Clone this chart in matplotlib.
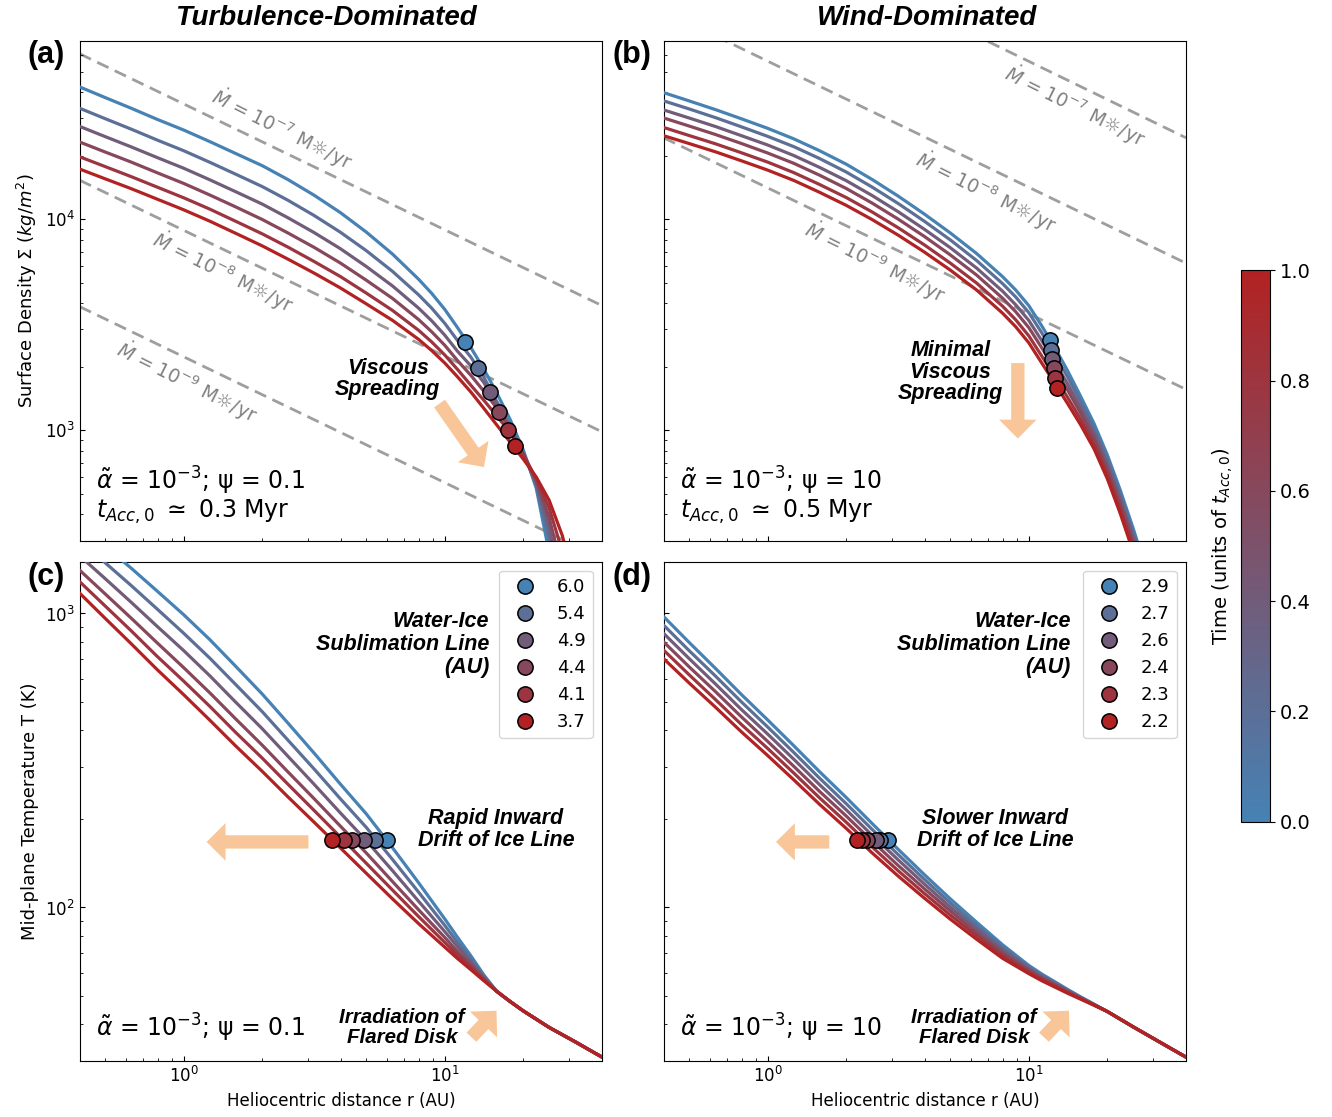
import numpy as np
import matplotlib
matplotlib.use("Agg")
import matplotlib as mpl
import matplotlib.pyplot as plt
from matplotlib.colors import LinearSegmentedColormap
from matplotlib.lines import Line2D

# ---- data ---------------------------------------------------------------
times = [0.0, 0.2, 0.4, 0.6, 0.8, 1.0]          # units of t_Acc,0

# radial grids (AU)
r_sig = [0.4, 0.5, 0.63, 0.79, 1.0, 1.26, 1.58, 2.0, 2.51, 3.16, 3.98, 5.01, 6.31,
         7.94, 8.91, 10, 11.2, 12.6, 14.1, 15.8, 17.8, 20, 22.4, 25.1, 28.2, 31.6]
r_tmp = [0.4, 0.5, 0.63, 0.79, 1.0, 1.26, 1.58, 2.0, 2.51, 3.16, 3.98, 5.01, 6.31,
         7.94, 10, 11.2, 12.6, 14.1, 15.8, 17.8, 20, 25.1, 31.6, 40]

# log10 surface density (kg/m^2), one row per time
logsig_turb = [
    [4.626, 4.576, 4.525, 4.473, 4.422, 4.367, 4.311, 4.253, 4.187, 4.113, 4.031, 3.938, 3.834,
     3.715, 3.648, 3.572, 3.485, 3.390, 3.290, 3.177, 3.050, 2.905, 2.725, 2.420, 2.000, 1.400],
    [4.525, 4.476, 4.426, 4.375, 4.324, 4.269, 4.213, 4.154, 4.089, 4.017, 3.938, 3.850, 3.752,
     3.641, 3.578, 3.506, 3.424, 3.345, 3.252, 3.137, 3.022, 2.894, 2.739, 2.484, 2.130, 1.620],
    [4.439, 4.391, 4.342, 4.292, 4.241, 4.186, 4.130, 4.071, 4.006, 3.936, 3.860, 3.775, 3.683,
     3.578, 3.518, 3.450, 3.373, 3.304, 3.226, 3.124, 3.009, 2.884, 2.750, 2.539, 2.240, 1.810],
    [4.365, 4.318, 4.270, 4.220, 4.169, 4.114, 4.058, 3.998, 3.934, 3.866, 3.792, 3.710, 3.624,
     3.524, 3.466, 3.402, 3.329, 3.259, 3.185, 3.105, 3.003, 2.886, 2.761, 2.586, 2.335, 1.976],
    [4.295, 4.249, 4.201, 4.152, 4.101, 4.047, 3.990, 3.930, 3.867, 3.799, 3.728, 3.649, 3.567,
     3.473, 3.418, 3.356, 3.287, 3.212, 3.142, 3.068, 2.989, 2.883, 2.770, 2.631, 2.425, 2.131],
    [4.237, 4.191, 4.144, 4.095, 4.044, 3.990, 3.933, 3.873, 3.810, 3.744, 3.674, 3.598, 3.520,
     3.430, 3.377, 3.318, 3.252, 3.180, 3.104, 3.025, 2.943, 2.862, 2.778, 2.668, 2.500, 2.260],
]
logsig_wind = [
    [4.599, 4.560, 4.519, 4.476, 4.430, 4.380, 4.324, 4.260, 4.188, 4.109, 4.024, 3.934, 3.837,
     3.727, 3.664, 3.590, 3.495, 3.390, 3.280, 3.160, 3.030, 2.882, 2.716, 2.535, 2.335, 2.110],
    [4.560, 4.522, 4.481, 4.438, 4.392, 4.343, 4.287, 4.223, 4.152, 4.074, 3.990, 3.901, 3.804,
     3.694, 3.631, 3.557, 3.462, 3.358, 3.251, 3.134, 3.007, 2.861, 2.695, 2.514, 2.314, 2.089],
    [4.517, 4.479, 4.439, 4.396, 4.351, 4.301, 4.245, 4.182, 4.112, 4.035, 3.952, 3.864, 3.768,
     3.658, 3.594, 3.520, 3.425, 3.322, 3.218, 3.106, 2.982, 2.837, 2.672, 2.491, 2.291, 2.066],
    [4.479, 4.441, 4.401, 4.359, 4.313, 4.264, 4.208, 4.145, 4.076, 4.000, 3.918, 3.830, 3.735,
     3.625, 3.561, 3.486, 3.391, 3.290, 3.189, 3.080, 2.959, 2.815, 2.651, 2.470, 2.270, 2.045],
    [4.434, 4.396, 4.357, 4.315, 4.270, 4.220, 4.164, 4.102, 4.034, 3.959, 3.878, 3.791, 3.697,
     3.587, 3.523, 3.447, 3.352, 3.252, 3.154, 3.051, 2.933, 2.790, 2.626, 2.445, 2.245, 2.020],
    [4.395, 4.358, 4.319, 4.277, 4.232, 4.183, 4.127, 4.065, 3.998, 3.924, 3.844, 3.758, 3.664,
     3.554, 3.490, 3.414, 3.319, 3.220, 3.125, 3.025, 2.910, 2.769, 2.605, 2.424, 2.224, 1.999],
]

# log10 mid-plane temperature (K)
logT_turb = [
    [3.299, 3.229, 3.154, 3.077, 2.996, 2.911, 2.821, 2.726, 2.627, 2.525, 2.420, 2.318,
     2.203, 2.084, 1.961, 1.898, 1.835, 1.771, 1.715, 1.680, 1.648, 1.592, 1.543, 1.491],
    [3.246, 3.173, 3.095, 3.016, 2.933, 2.848, 2.759, 2.666, 2.569, 2.471, 2.370, 2.272,
     2.163, 2.052, 1.939, 1.881, 1.824, 1.766, 1.715, 1.680, 1.648, 1.592, 1.543, 1.491],
    [3.196, 3.119, 3.038, 2.957, 2.874, 2.788, 2.699, 2.608, 2.514, 2.419, 2.322, 2.227,
     2.125, 2.021, 1.918, 1.866, 1.814, 1.762, 1.715, 1.680, 1.648, 1.592, 1.543, 1.491],
    [3.147, 3.067, 2.984, 2.901, 2.816, 2.730, 2.642, 2.552, 2.461, 2.370, 2.277, 2.185,
     2.088, 1.992, 1.898, 1.850, 1.804, 1.758, 1.715, 1.680, 1.648, 1.592, 1.543, 1.491],
    [3.108, 3.026, 2.941, 2.855, 2.770, 2.684, 2.596, 2.508, 2.419, 2.330, 2.240, 2.150,
     2.059, 1.969, 1.881, 1.838, 1.796, 1.754, 1.715, 1.680, 1.648, 1.592, 1.543, 1.491],
    [3.069, 2.984, 2.897, 2.810, 2.724, 2.637, 2.550, 2.463, 2.376, 2.290, 2.203, 2.116,
     2.029, 1.945, 1.865, 1.826, 1.788, 1.751, 1.715, 1.680, 1.648, 1.592, 1.543, 1.491],
]
logT_wind = [
    [2.989, 2.902, 2.814, 2.726, 2.638, 2.550, 2.462, 2.374, 2.286, 2.198, 2.112, 2.029,
     1.950, 1.873, 1.803, 1.774, 1.747, 1.721, 1.696, 1.671, 1.646, 1.594, 1.543, 1.491],
    [2.960, 2.874, 2.788, 2.701, 2.614, 2.527, 2.440, 2.353, 2.266, 2.180, 2.096, 2.015,
     1.938, 1.864, 1.797, 1.769, 1.743, 1.718, 1.694, 1.670, 1.646, 1.594, 1.543, 1.491],
    [2.932, 2.847, 2.761, 2.675, 2.590, 2.504, 2.418, 2.332, 2.246, 2.162, 2.080, 2.001,
     1.927, 1.855, 1.792, 1.765, 1.740, 1.716, 1.693, 1.669, 1.646, 1.594, 1.543, 1.491],
    [2.903, 2.819, 2.735, 2.650, 2.565, 2.480, 2.395, 2.311, 2.226, 2.143, 2.064, 1.988,
     1.915, 1.845, 1.786, 1.760, 1.736, 1.713, 1.691, 1.669, 1.646, 1.594, 1.543, 1.491],
    [2.875, 2.792, 2.708, 2.624, 2.541, 2.457, 2.373, 2.290, 2.206, 2.125, 2.048, 1.974,
     1.904, 1.836, 1.781, 1.756, 1.733, 1.711, 1.690, 1.668, 1.646, 1.594, 1.543, 1.491],
    [2.846, 2.764, 2.682, 2.599, 2.517, 2.434, 2.351, 2.269, 2.186, 2.107, 2.032, 1.960,
     1.892, 1.827, 1.775, 1.751, 1.729, 1.708, 1.688, 1.667, 1.646, 1.594, 1.543, 1.491],
]

# circles on the surface density curves
rc_turb = [11.98, 13.40, 14.86, 16.18, 17.46, 18.62]
sigc_turb = [2618, 1959, 1517, 1222, 1000, 841]
rc_wind = [12.02, 12.19, 12.30, 12.45, 12.59, 12.79]
sigc_wind = [2685, 2410, 2163, 1959, 1758, 1578]

# water-ice line (AU) at T = 170 K
T_ice = 170
ice_turb = [6.0, 5.4, 4.9, 4.4, 4.1, 3.7]
ice_wind = [2.9, 2.7, 2.6, 2.4, 2.3, 2.2]

# constant accretion-rate lines: log10 Sigma at r = 0.4 and 40 AU
mdot_r = [0.4, 40]
mdot_exp = ["-7", "-8", "-9"]
logmdot_turb = [[4.783, 3.590], [4.184, 2.992], [3.585, 2.392]]
logmdot_wind = [[5.589, 4.385], [4.986, 3.791], [4.385, 3.193]]

# ---- styling ---------------------------------------------------------------
cmap = LinearSegmentedColormap.from_list("time", ["steelblue", "firebrick"])
ARROW = "#F9C699"
BI = dict(family="Liberation Sans", weight="bold", style="italic")

W, H = 1332, 1117
fig = plt.figure(figsize=(W / 100, H / 100), dpi=100)


def px_axes(x0, y0, x1, y1):
    return fig.add_axes([x0 / W, 1 - y1 / H, (x1 - x0) / W, (y1 - y0) / H])


ax_a = px_axes(79.7, 40.7, 602, 540.5)
ax_b = px_axes(663.7, 40.7, 1186, 540.5)
ax_c = px_axes(79.7, 561.7, 602, 1061.2)
ax_d = px_axes(663.7, 561.7, 1186, 1061.2)
cax = px_axes(1240.5, 270.4, 1270, 821.5)

for ax in (ax_a, ax_b, ax_c, ax_d):
    ax.set_xscale("log")
    ax.set_yscale("log")
    ax.set_xlim(0.4, 40)
    ax.tick_params(which="both", direction="in", top=False, right=False, labelsize=12)

for ax in (ax_a, ax_b):
    ax.set_ylim(300, 7e4)
    ax.tick_params(labelbottom=False)
for ax in (ax_c, ax_d):
    ax.set_ylim(30, 1500)
    ax.set_xlabel("Heliocentric distance r (AU)", fontsize=12)
for ax in (ax_b, ax_d):
    ax.tick_params(which="both", labelleft=False)

ax_a.set_ylabel(r"Surface Density $\Sigma$ ($kg/m^2$)", fontsize=13)
ax_c.set_ylabel("Mid-plane Temperature T (K)", fontsize=13)


def arrow(ax, tail, tip):
    ax.annotate("", xy=tip, xytext=tail, xycoords="axes fraction", textcoords="axes fraction",
                arrowprops=dict(arrowstyle="simple,head_length=0.68,head_width=1.35,tail_width=0.48",
                                color=ARROW, lw=0, shrinkA=0, shrinkB=0, mutation_scale=20),
                zorder=2)


# ---- surface density panels -----------------------------------------------
for ax, logsig, logmd, rc, sc, label_pos in (
        (ax_a, logsig_turb, logmdot_turb, rc_turb, sigc_turb,
         [(0.387, 0.825), (0.274, 0.539), (0.205, 0.318)]),
        (ax_b, logsig_wind, logmdot_wind, rc_wind, sigc_wind,
         [(0.788, 0.871), (0.618, 0.698), (0.404, 0.558)])):
    for k in range(3):
        ax.plot(mdot_r, 10 ** np.array(logmd[k]), color="0.62", lw=2, dashes=(4.5, 2.5), zorder=1)
        ax.text(label_pos[k][0], label_pos[k][1],
                r"$\dot{M}$ = 10$^{%s}$ M☼/yr" % mdot_exp[k],
                transform=ax.transAxes, color="0.5", fontsize=13.5, rotation=-26.5,
                rotation_mode="anchor", ha="center", va="center", zorder=1)
    for i, t in enumerate(times):
        ax.plot(r_sig, 10 ** np.array(logsig[i]), color=cmap(t), lw=2.3, zorder=3)
    for i, t in enumerate(times):
        ax.plot(rc[i], sc[i], "o", ms=11, mfc=cmap(t), mec="k", mew=1.1, zorder=5)

ax_a.text(0.032, 0.120, r"$\tilde{\alpha}$ = $10^{-3}$; ψ = 0.1", transform=ax_a.transAxes,
          fontsize=17, va="center")
ax_a.text(0.032, 0.057, r"$t_{Acc,0}$ $\simeq$ 0.3 Myr", transform=ax_a.transAxes,
          fontsize=17, va="center")
ax_b.text(0.032, 0.120, r"$\tilde{\alpha}$ = $10^{-3}$; ψ = 10", transform=ax_b.transAxes,
          fontsize=17, va="center")
ax_b.text(0.032, 0.057, r"$t_{Acc,0}$ $\simeq$ 0.5 Myr", transform=ax_b.transAxes,
          fontsize=17, va="center")

ax_a.text(0.590, 0.323, "Viscous\nSpreading", transform=ax_a.transAxes, ha="center",
          va="center", fontsize=15.5, linespacing=1.05, zorder=6, **BI)
arrow(ax_a, (0.689, 0.274), (0.774, 0.147))
ax_b.text(0.549, 0.337, "Minimal\nViscous\nSpreading", transform=ax_b.transAxes, ha="center",
          va="center", fontsize=15.5, linespacing=1.05, zorder=6, **BI)
arrow(ax_b, (0.678, 0.355), (0.678, 0.204))

# ---- temperature panels ------------------------------------------------------
for ax, logT, ice, txt_x, drift, drift_xy, drift_arrow, irr_x, irr_arrow, psi in (
        (ax_c, logT_turb, ice_turb, 0.784, "Rapid Inward\nDrift of Ice Line", (0.797, 0.464),
         ((0.438, 0.439), (0.243, 0.439)), 0.617, ((0.750, 0.048), (0.798, 0.101)), "0.1"),
        (ax_d, logT_wind, ice_wind, 0.779, "Slower Inward\nDrift of Ice Line", (0.635, 0.464),
         ((0.317, 0.439), (0.215, 0.439)), 0.594, ((0.728, 0.048), (0.776, 0.101)), "10")):
    for i, t in enumerate(times):
        ax.plot(r_tmp, 10 ** np.array(logT[i]), color=cmap(t), lw=2.3, zorder=3)
    for i, t in enumerate(times):
        ax.plot(ice[i], T_ice, "o", ms=11, mfc=cmap(t), mec="k", mew=1.1, zorder=5)
    handles = [Line2D([], [], ls="none", marker="o", ms=11, mfc=cmap(t), mec="k", mew=1.1)
               for t in times]
    ax.legend(handles, ["%.1f" % v for v in ice], loc="upper right", fontsize=13)
    ax.text(txt_x, 0.834, "Water-Ice\nSublimation Line\n(AU)", transform=ax.transAxes,
            ha="right", va="center", fontsize=15.5, linespacing=1.12, **BI)
    ax.text(drift_xy[0], drift_xy[1], drift, transform=ax.transAxes, ha="center", va="center",
            fontsize=15.5, linespacing=1.05, **BI)
    arrow(ax, *drift_arrow)
    ax.text(irr_x, 0.067, "Irradiation of\nFlared Disk", transform=ax.transAxes, ha="center",
            va="center", fontsize=14.8, linespacing=1.05, **BI)
    arrow(ax, *irr_arrow)
    ax.text(0.032, 0.067, r"$\tilde{\alpha}$ = $10^{-3}$; ψ = " + psi, transform=ax.transAxes,
            fontsize=17, va="center")

# ---- colorbar, titles, panel letters ------------------------------------------
sm = mpl.cm.ScalarMappable(cmap=cmap, norm=mpl.colors.Normalize(0, 1))
cb = fig.colorbar(sm, cax=cax)
cb.set_ticks([0.0, 0.2, 0.4, 0.6, 0.8, 1.0])
cb.ax.tick_params(labelsize=14)
cb.ax.yaxis.set_label_position("left")
cb.set_label(r"Time (units of $t_{Acc,0}$)", fontsize=14)

fig.text(326 / W, 1 - 18 / H, "Turbulence-Dominated", ha="center", va="center", fontsize=20, **BI)
fig.text(927 / W, 1 - 18 / H, "Wind-Dominated", ha="center", va="center", fontsize=20, **BI)
for lab, x, y in (("(a)", 46, 55), ("(b)", 632, 55), ("(c)", 46, 577), ("(d)", 632, 577)):
    fig.text(x / W, 1 - y / H, lab, ha="center", va="center", fontsize=22,
             family="Liberation Sans", weight="bold")

fig.savefig("out.png", dpi=100)
